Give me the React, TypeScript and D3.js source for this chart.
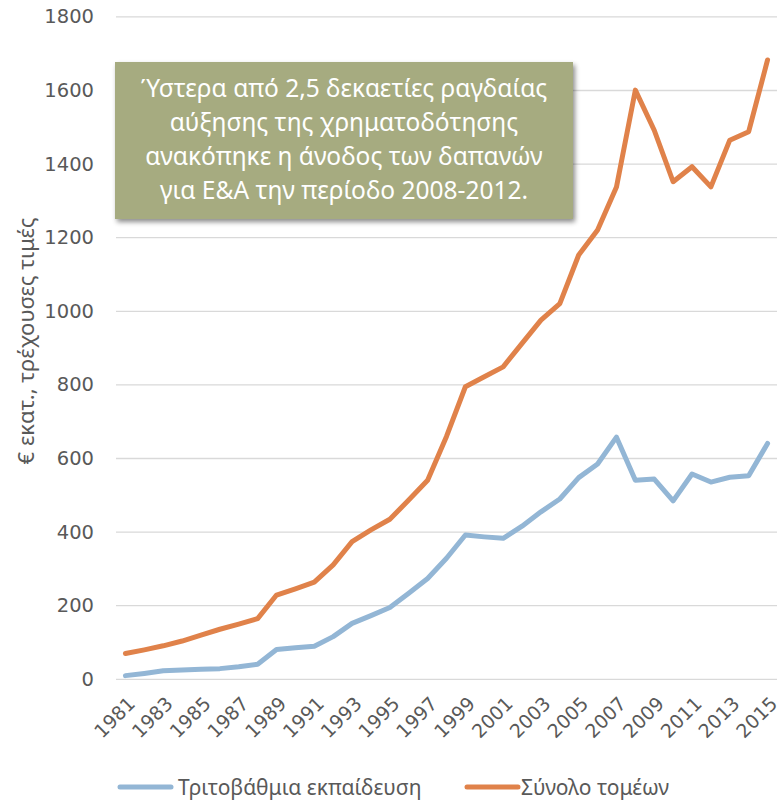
import React from "react";
import * as d3 from "d3";

const years: number[] = [
  1981, 1982, 1983, 1984, 1985, 1986, 1987, 1988, 1989, 1990, 1991, 1992,
  1993, 1994, 1995, 1996, 1997, 1998, 1999, 2000, 2001, 2002, 2003, 2004,
  2005, 2006, 2007, 2008, 2009, 2010, 2011, 2012, 2013, 2014, 2015,
];

const tertiary: number[] = [
  10, 16, 23, 25, 27, 29, 34, 41, 81, 86, 90, 116, 152, 173, 195, 234, 274,
  329, 392, 387, 383, 416, 455, 490, 548, 585, 658, 541, 544, 485, 558, 536,
  549, 553, 641,
];

const total: number[] = [
  70, 80, 91, 104, 120, 136, 150, 165, 229, 246, 264, 311, 374, 406, 435, 487,
  541, 660, 795, 822, 849, 913, 976, 1021, 1153, 1221, 1338, 1601, 1492, 1352,
  1393, 1338, 1465, 1488, 1683,
];

const yTicks: number[] = [0, 200, 400, 600, 800, 1000, 1200, 1400, 1600, 1800];

const seriesNames: string[] = ["Τριτοβάθμια εκπαίδευση", "Σύνολο τομέων"];
const seriesColors: string[] = ["#93b6d5", "#e0824a"];

const yLabel = "€ εκατ., τρέχουσες τιμές";
const noteLines: string[] = [
  "Ύστερα από 2,5 δεκαετίες ραγδαίας",
  "αύξησης της χρηματοδότησης",
  "ανακόπηκε η άνοδος των δαπανών",
  "για Ε&Α την περίοδο 2008-2012.",
];

export default function App() {
  const W = 781;
  const H = 802;
  const x = d3
    .scaleBand<number>()
    .domain(years)
    .range([116, 777])
    .paddingInner(0)
    .paddingOuter(0);
  const y = d3.scaleLinear().domain([0, 1800]).range([679.3, 16.9]);
  const cx = (yr: number) => (x(yr) as number) + x.bandwidth() / 2;

  const line = d3
    .line<number>()
    .x((_, i) => cx(years[i]))
    .y((v) => y(v));

  const series = [tertiary, total];
  const tickFont = "'DejaVu Sans', sans-serif";
  const textFont = "'Noto Sans', sans-serif";

  return (
    <svg
      width={W}
      height={H}
      style={{ position: "absolute", left: 0, top: 0, background: "#fff" }}
    >
      <defs>
        <filter id="sh" x="-10%" y="-10%" width="125%" height="130%">
          <feDropShadow dx="2" dy="3" stdDeviation="2.5" floodColor="#000" floodOpacity="0.45" />
        </filter>
      </defs>
      {/* gridlines */}
      {yTicks.map((t) => (
        <line
          key={t}
          x1={116}
          x2={777}
          y1={y(t)}
          y2={y(t)}
          stroke="#d9d9d9"
          strokeWidth={1.3}
        />
      ))}
      {/* y tick labels */}
      {yTicks.map((t) => (
        <text
          key={"l" + t}
          x={94}
          y={y(t)}
          textAnchor="end"
          dominantBaseline="central"
          fontFamily={tickFont}
          fontSize={19.5}
          fill="#595959"
        >
          {t}
        </text>
      ))}
      {/* y axis label */}
      <text
        transform={`translate(34,341) rotate(-90)`}
        textAnchor="middle"
        fontFamily={textFont}
        fontSize={22}
        fill="#595959"
      >
        {yLabel}
      </text>
      {/* x tick labels */}
      {years
        .filter((yr) => (yr - 1981) % 2 === 0)
        .map((yr) => (
          <text
            key={"x" + yr}
            transform={`translate(${cx(yr) + 6},${700}) rotate(-45)`}
            textAnchor="end"
            dominantBaseline="central"
            fontFamily={tickFont}
            fontSize={19}
            fill="#595959"
          >
            {yr}
          </text>
        ))}
      {/* series */}
      {series.map((s, i) => (
        <path
          key={"s" + i}
          d={line(s) || ""}
          fill="none"
          stroke={seriesColors[i]}
          strokeWidth={5}
          strokeLinejoin="round"
          strokeLinecap="round"
        />
      ))}
      {/* annotation box */}
      <rect
        x={115}
        y={62}
        width={458}
        height={157}
        fill="#a6ab80"
        filter="url(#sh)"
      />
      {noteLines.map((t, i) => (
        <text
          key={"n" + i}
          x={344}
          y={97 + i * 34}
          textAnchor="middle"
          fontFamily={textFont}
          fontSize={24.5}
          fill="#ffffff"
        >
          {t}
        </text>
      ))}
      {/* legend */}
      {[
        { x0: 118, tx: 178 },
        { x0: 465, tx: 521 },
      ].map((p, i) => (
        <g key={"lg" + i}>
          <line
            x1={p.x0 + 2}
            x2={p.x0 + 53}
            y1={787}
            y2={787}
            stroke={seriesColors[i]}
            strokeWidth={5}
            strokeLinecap="round"
          />
          <text
            x={p.tx}
            y={787}
            dominantBaseline="central"
            fontFamily={textFont}
            fontSize={21}
            fill="#595959"
          >
            {seriesNames[i]}
          </text>
        </g>
      ))}
    </svg>
  );
}
